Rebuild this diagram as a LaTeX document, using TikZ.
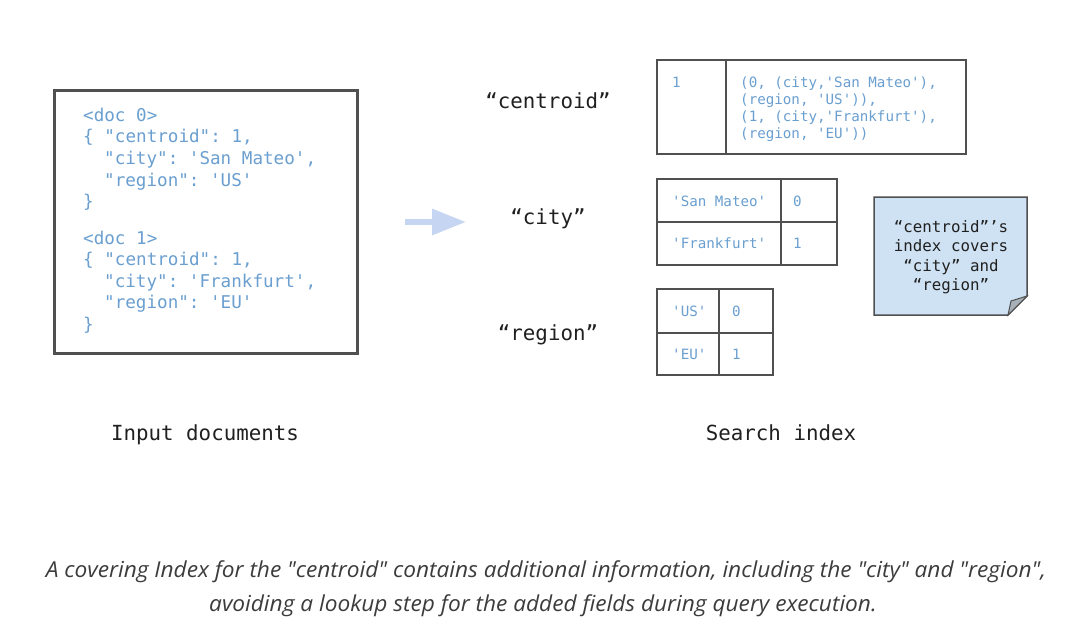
\documentclass[tikz,border=0pt]{standalone}
\usepackage{fontspec}
\setmonofont{DejaVu Sans Mono}
\newfontfamily\capfont[FakeStretch=1.03]{Open Sans}
\usetikzlibrary{arrows.meta}
\definecolor{codeblue}{HTML}{6A9FD0}
\definecolor{linegray}{HTML}{505050}
\definecolor{arrowblue}{HTML}{C6D6F2}
\definecolor{notefill}{HTML}{CFE2F3}
\definecolor{foldgray}{HTML}{A7AFB8}
\definecolor{labelblack}{HTML}{202020}
\definecolor{capgray}{HTML}{3C3C3C}

\begin{document}
\begin{tikzpicture}[x=1pt,y=-1pt]
                        \tikzstyle{code}=[text=codeblue, inner sep=0pt, anchor=base west, font=\ttfamily\fontsize{17.6}{20}\selectfont]
                        \tikzstyle{small code}=[code, font=\ttfamily\fontsize{14.2}{17}\selectfont]
                        \tikzstyle{cell}=[draw=linegray, line width=1.5pt, anchor=north west, inner sep=0pt, outer sep=0pt]
                        \tikzstyle{field}=[text=labelblack, inner sep=0pt, anchor=base, font=\ttfamily\fontsize{20.8}{24}\selectfont]
                        \tikzstyle{caption}=[text=capgray, inner sep=0pt, anchor=base, font=\capfont\itshape\fontsize{22}{26}\selectfont]
                        \useasboundingbox[fill=white] (0,0) rectangle (1080,627);
                        % input documents
                        \draw[linegray, line width=3pt] (54,90) rectangle (357,353);
                        \foreach \dx/\ln [count=\i from 0] in {0/{<doc 0>}, 0/{\{ "centroid": 1,}, 2/{"city": 'San Mateo',}, 2/{"region": 'US'}, 0/{\}}}
                            \node[code] (doc0l\i) at (83+10.5*\dx, 121+21.7*\i) {\ln};
                        \foreach \dx/\ln [count=\i from 0] in {0/{<doc 1>}, 0/{\{ "centroid": 1,}, 2/{"city": 'Frankfurt',}, 2/{"region": 'EU'}, 0/{\}}}
                            \node[code] (doc1l\i) at (83+10.5*\dx, 244+21.6*\i) {\ln};
                        \node[field] (inputs) at (205,440) {Input documents};
                        % arrow
                        \coordinate (arrS) at (405,222);
                        \coordinate (arrE) at (466,222);
                        \draw[arrowblue, line width=6pt, -{Triangle[length=34pt,width=25pt]}] (arrS) -- (arrE);
                        % field names
                        \node[field] (centroid) at (548,108) {“centroid”};
                        \node[field] (city) at (548,224) {“city”};
                        \node[field] (region) at (548,340) {“region”};
                        % centroid table
                        \node[cell, minimum width=69, minimum height=94] (cenkey) at (657,60) {};
                        \node[cell, minimum width=240, minimum height=94] (cenval) at (cenkey.north east) {};
                        \node[small code] (cenone) at (672,87) {1};
                        \foreach \ln [count=\i from 0] in {{(0, (city,'San Mateo'),}, {(region, 'US')),}, {(1, (city,'Frankfurt'),}, {(region, 'EU'))}}
                            \node[small code] (cenl\i) at (740,87+17.2*\i) {\ln};
                        % city table
                        \node[cell, minimum width=124, minimum height=43] (smkey) at (657,179) {};
                        \node[cell, minimum width=56, minimum height=43] (smval) at (smkey.north east) {};
                        \node[cell, minimum width=124, minimum height=43] (ffkey) at (smkey.south west) {};
                        \node[cell, minimum width=56, minimum height=43] (ffval) at (ffkey.north east) {};
                        \node[small code] (smtext) at (672,206) {'San Mateo'};
                        \node[small code] (smnum) at (793,206) {0};
                        \node[small code] (fftext) at (672,248) {'Frankfurt'};
                        \node[small code] (ffnum) at (793,248) {1};
                        % region table
                        \node[cell, minimum width=62, minimum height=44] (uskey) at (657,289) {};
                        \node[cell, minimum width=54, minimum height=44] (usval) at (uskey.north east) {};
                        \node[cell, minimum width=62, minimum height=42] (eukey) at (uskey.south west) {};
                        \node[cell, minimum width=54, minimum height=42] (euval) at (eukey.north east) {};
                        \node[small code] (ustext) at (672,316) {'US'};
                        \node[small code] (usnum) at (732,316) {0};
                        \node[small code] (eutext) at (672,359) {'EU'};
                        \node[small code] (eunum) at (732,359) {1};
                        % note
                        \draw[linegray, line width=1.5pt, fill=notefill] (874,197) -- (1027,197) -- (1027,296) -- (1008,315) -- (874,315) -- cycle;
                        \draw[linegray, line width=1pt, fill=foldgray] (1027,296) -- (1011,301) -- (1008,315) -- cycle;
                        \node[text=labelblack, align=center, inner sep=0pt, font=\ttfamily\fontsize{15.8}{19.5}\selectfont] (note) at (951,257) {“centroid”’s\\index covers\\“city” and\\“region”};
                        \node[field] (searchidx) at (781,440) {Search index};
                        % caption
                        \node[caption] (capa) at (546,577) {A covering Index for the "centroid" contains additional information, including the "city" and "region",};
                        \node[caption] (capb) at (543,611) {avoiding a lookup step for the added fields during query execution.};
                    \end{tikzpicture}
\end{document}
